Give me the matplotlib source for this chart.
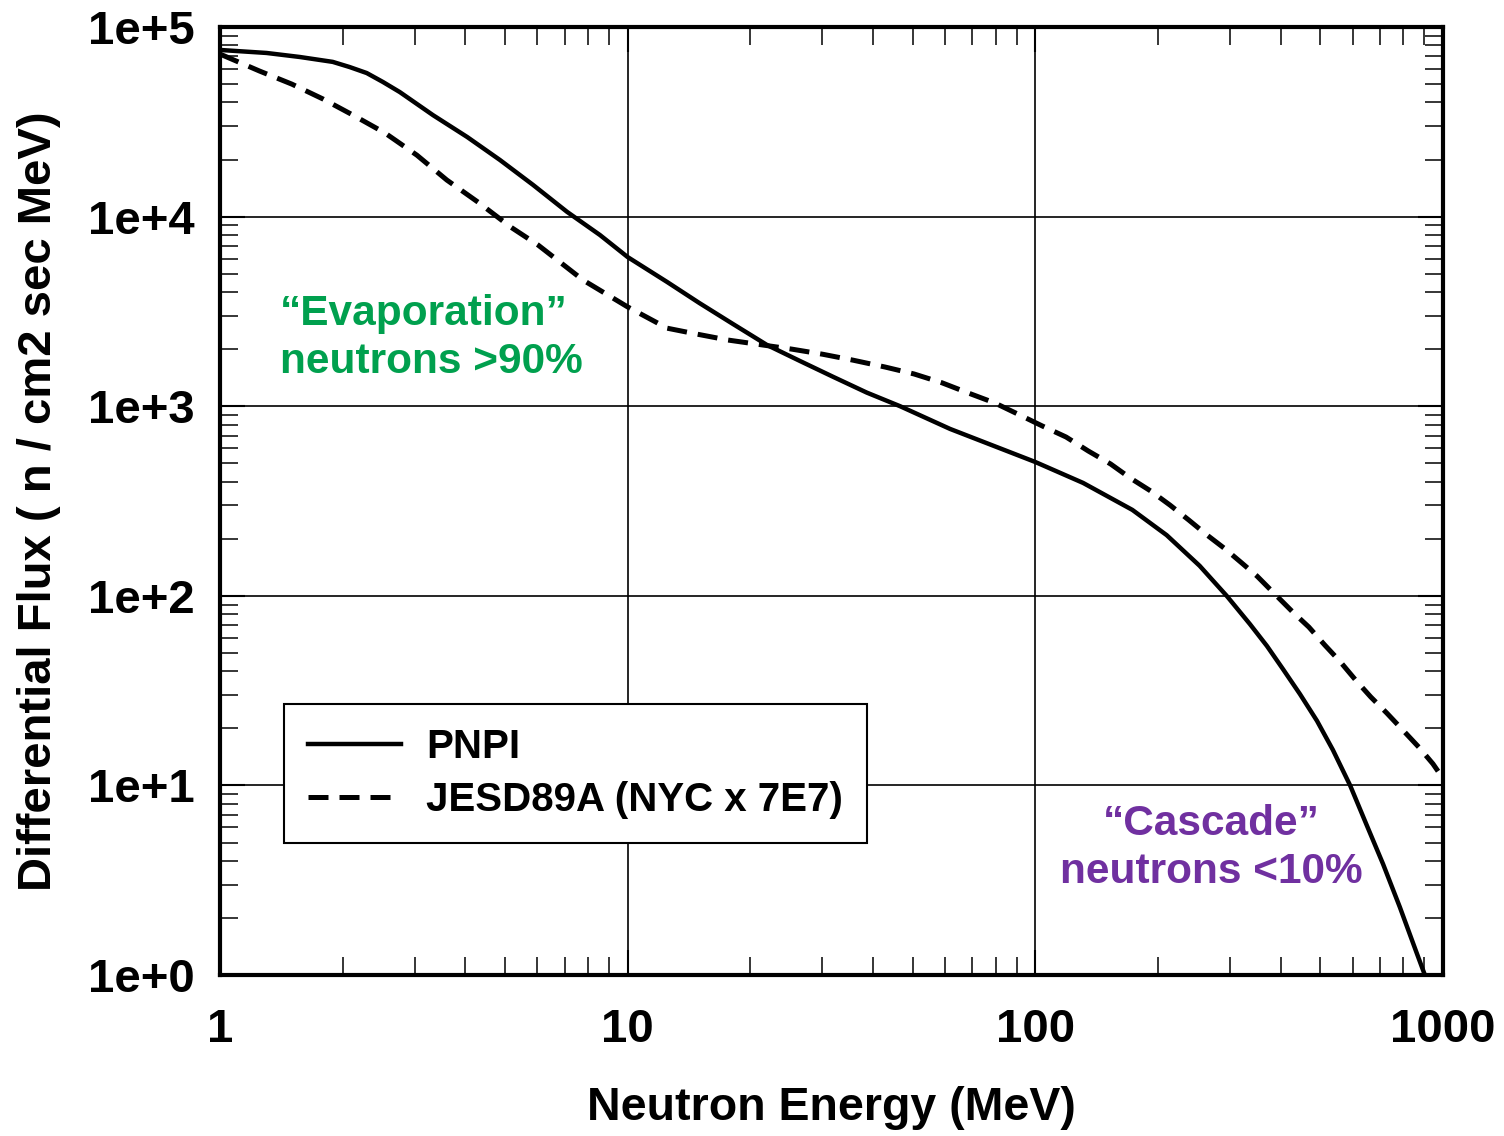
import numpy as np
import matplotlib.pyplot as plt
from matplotlib.ticker import FixedLocator, FixedFormatter, LogLocator, NullFormatter

# values
pnpi_energy = [1.0, 1.30, 1.57, 1.89, 2.08, 2.29, 2.51, 2.76, 3.33, 4.04, 4.86, 5.86, 7.1,
               8.55, 10, 12.5, 15, 18.1, 22, 26.5, 31.9, 38.6, 46.6, 61.8, 100, 131, 173,
               210, 253, 295, 336, 370, 405, 446, 491, 537, 592, 650, 713, 784, 863, 903]
pnpi_flux = [7.57e4, 7.3e4, 6.95e4, 6.55e4, 6.15e4, 5.72e4, 5.13e4, 4.54e4, 3.43e4, 2.63e4,
             1.99e4, 1.47e4, 1.06e4, 8.0e3, 6.12e3, 4.52e3, 3.5e3, 2.72e3, 2.1e3, 1.73e3,
             1.43e3, 1.18e3, 1.0e3, 759, 508, 394, 284, 209, 144, 99.8, 71.0, 54.4, 41.1,
             30.3, 21.9, 15.4, 10.0, 6.18, 3.85, 2.28, 1.3, 1.0]

jesd_energy = [1.0, 1.25, 1.5, 1.79, 2.12, 2.54, 3.04, 3.6, 4.3, 5.17, 6.03, 7.77, 10, 12.5,
               14.8, 17.6, 25.3, 30.1, 35.7, 42.8, 50.4, 59.0, 68.8, 79.6, 91.6, 104, 119,
               135, 153, 171, 192, 214, 238, 264, 292, 321, 350, 389, 428, 469, 513, 558,
               611, 665, 728, 797, 873, 945, 1000]
jesd_flux = [7.2e4, 5.86e4, 5.0e4, 4.17e4, 3.43e4, 2.76e4, 2.11e4, 1.56e4, 1.19e4, 8.8e3,
             7.08e3, 4.63e3, 3.34e3, 2.58e3, 2.4e3, 2.235e3, 2.0e3, 1.88e3, 1.75e3, 1.61e3,
             1.48e3, 1.33e3, 1.17e3, 1.04e3, 899, 787, 688, 580, 496, 418, 357, 301, 251,
             209, 177, 149, 127, 101, 82.2, 68.4, 55.0, 45.3, 35.9, 29.3, 24.1, 19.6, 15.9,
             13.0, 10.9]

x_ticks = [1, 10, 100, 1000]
x_labels = ["1", "10", "100", "1000"]
y_ticks = [1, 10, 100, 1e3, 1e4, 1e5]
y_labels = ["1e+0", "1e+1", "1e+2", "1e+3", "1e+4", "1e+5"]

plt.rcParams['font.family'] = ['Liberation Sans', 'DejaVu Sans']
plt.rcParams['font.weight'] = 'bold'

fig = plt.figure(figsize=(15.04, 11.36), dpi=100)
ax = fig.add_axes([0.1463, 0.1417, 0.8131, 0.8345])

ax.plot(pnpi_energy, pnpi_flux, 'k-', lw=3.2, label="PNPI")
ax.plot(jesd_energy, jesd_flux, 'k--', lw=3.6, dashes=(4.0, 2.2), label="JESD89A (NYC x 7E7)")

ax.set_xscale('log')
ax.set_yscale('log')
ax.set_xlim(1, 1000)
ax.set_ylim(1, 1e5)

ax.xaxis.set_major_locator(FixedLocator(x_ticks))
ax.xaxis.set_major_formatter(FixedFormatter(x_labels))
ax.yaxis.set_major_locator(FixedLocator(y_ticks))
ax.yaxis.set_major_formatter(FixedFormatter(y_labels))
ax.xaxis.set_minor_locator(LogLocator(base=10, subs=np.arange(2, 10)))
ax.yaxis.set_minor_locator(LogLocator(base=10, subs=np.arange(2, 10)))
ax.xaxis.set_minor_formatter(NullFormatter())
ax.yaxis.set_minor_formatter(NullFormatter())

ax.tick_params(which='both', direction='in', top=True, right=True)
ax.tick_params(which='major', length=18, width=1.5, labelsize=34, pad=18)
ax.tick_params(which='minor', length=13, width=1.1)
ax.tick_params(axis='x', which='major', pad=24)
for lab in ax.get_xticklabels() + ax.get_yticklabels():
    lab.set_fontweight('bold')

ax.grid(True, which='major', color='k', lw=1.2)
for s in ax.spines.values():
    s.set_linewidth(3)

ax.set_xlabel("Neutron Energy (MeV)", fontsize=33.5, fontweight='bold', labelpad=24)
ax.set_ylabel("Differential Flux ( n / cm2 sec MeV)", fontsize=34, fontweight='bold',
              labelpad=20)

ax.text(0.049, 0.672, "\u201cEvaporation\u201d\nneutrons >90%", transform=ax.transAxes,
        fontsize=30.5, fontweight='bold', color='#00A04E', ha='left', va='center',
        linespacing=1.28)
ax.text(0.811, 0.134, "\u201cCascade\u201d\nneutrons <10%", transform=ax.transAxes,
        fontsize=30.5, fontweight='bold', color='#7030A0', ha='center', va='center',
        linespacing=1.28)

leg = ax.legend(loc='lower left', bbox_to_anchor=(0.0523, 0.139), borderaxespad=0,
                fontsize=29, frameon=True, fancybox=False, edgecolor='k', framealpha=1,
                handlelength=2.3, handletextpad=0.62, borderpad=0.6, labelspacing=0.38)
leg.get_frame().set_linewidth(1.5)
for t in leg.get_texts():
    t.set_fontweight('bold')

fig.savefig("out.png", dpi=100)
